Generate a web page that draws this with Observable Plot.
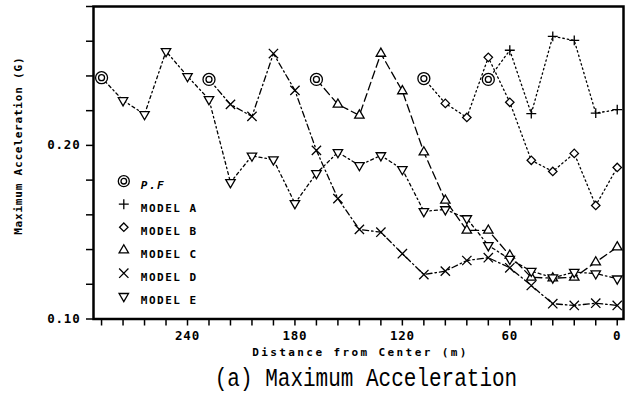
<!DOCTYPE html>
<html><head><meta charset="utf-8">
<script src="https://cdn.jsdelivr.net/npm/d3@7"></script>
<script src="https://cdn.jsdelivr.net/npm/@observablehq/plot@0.6"></script>
<style>
html,body{margin:0;padding:0;background:#fff;}
#chart svg{display:block;}
#chart svg text{font-family:"DejaVu Sans Mono",monospace;font-weight:bold;}
g[aria-label="x-axis tick label"] text, g[aria-label="y-axis tick label"] text{letter-spacing:0.8px;}
.lgtext text{letter-spacing:1.5px;}
.xlab text{letter-spacing:2.4px;}
.ylab text{letter-spacing:0.8px;}
#caption{font-family:"Liberation Mono",monospace;font-size:21px;padding-left:100px;width:532px;text-align:center;margin-top:3px;transform:scaleY(1.2);color:#000;}
</style></head>
<body>
<div id="chart"></div>
<div id="caption">(a) Maximum Acceleration</div>
<script>
// ---- data (distance from center in m, maximum acceleration in G) ----
const pfDist = [288, 228, 168, 108, 72];
const pfAcc  = [0.239, 0.238, 0.238, 0.2385, 0.238];

const aDist = [72, 60, 48, 36, 24, 12, 0];
const aAcc  = [0.238, 0.2548, 0.2183, 0.2628, 0.2605, 0.2186, 0.2206];

const bDist = [108, 96, 84, 72, 60, 48, 36, 24, 12, 0];
const bAcc  = [0.2385, 0.2242, 0.2161, 0.2507, 0.2248, 0.1914, 0.1850, 0.1954, 0.1654, 0.1873];

const cDist = [168, 156, 144, 132, 120, 108, 96, 84, 72, 60, 48, 36, 24, 12, 0];
const cAcc  = [0.238, 0.2236, 0.2173, 0.2529, 0.2313, 0.1961, 0.1683, 0.1510, 0.1510, 0.1366, 0.1240, 0.1235, 0.1240, 0.1327, 0.1414];

const dDist = [228, 216, 204, 192, 180, 168, 156, 144, 132, 120, 108, 96, 84, 72, 60, 48, 36, 24, 12, 0];
const dAcc  = [0.238, 0.2236, 0.2167, 0.2529, 0.2317, 0.1971, 0.1693, 0.1516, 0.1500, 0.1376, 0.1256, 0.1276, 0.1337, 0.1353, 0.1295, 0.1193, 0.1088, 0.1078, 0.1091, 0.1078];

const eDist = [288, 276, 264, 252, 240, 228, 216, 204, 192, 180, 168, 156, 144, 132, 120, 108, 96, 84, 72, 60, 48, 36, 24, 12, 0];
const eAcc  = [0.239, 0.2259, 0.2179, 0.2542, 0.2398, 0.2265, 0.1787, 0.1940, 0.1918, 0.1666, 0.1839, 0.1960, 0.1885, 0.1942, 0.1862, 0.1620, 0.1631, 0.1579, 0.1424, 0.1345, 0.1276, 0.1238, 0.1270, 0.1262, 0.1232];

const xTicks  = [0, 12, 24, 36, 48, 60, 72, 84, 96, 108, 120, 132, 144, 156, 168, 180, 192, 204, 216, 228, 240, 252, 264, 276, 288];
const xLabels = [0, 60, 120, 180, 240];
const yTicks  = [0.10, 0.12, 0.14, 0.16, 0.18, 0.20, 0.22, 0.24, 0.26, 0.28];
const yLabels = [0.10, 0.20];

const legendNames = ["P.F", "MODEL A", "MODEL B", "MODEL C", "MODEL D", "MODEL E"];
const xTitle = "Distance from Center (m)";
const yTitle = "Maximum Acceleration (G)";

// ---- build tables ----
const zip = (ds, vs) => ds.map((d, i) => ({d, v: vs[i]}));
const pf = zip(pfDist, pfAcc);
const series = [
  {name: "MODEL A", data: zip(aDist, aAcc), symbol: "plus",      r: 3.3, rotate: 0,   fill: "none",  dash: "1.5,3"},
  {name: "MODEL B", data: zip(bDist, bAcc), symbol: "diamond2",  r: 3.8, rotate: 0,   fill: "white", dash: "1.5,3"},
  {name: "MODEL C", data: zip(cDist, cAcc), symbol: "triangle2", r: 4.5, rotate: 0,   fill: "white", dash: "8,4"},
  {name: "MODEL D", data: zip(dDist, dAcc), symbol: "times",     r: 4.3, rotate: 0,   fill: "none",  dash: "6,3,1.5,3"},
  {name: "MODEL E", data: zip(eDist, eAcc), symbol: "triangle2", r: 4.5, rotate: 180, fill: "white", dash: "3,3,1.5,3"}
];

const marks = [];
// lines
for (const s of series) {
  marks.push(Plot.line(s.data, {x: "d", y: "v", stroke: "black", strokeWidth: 1.3, strokeDasharray: s.dash}));
}
// markers (first point of every model is the P.F point)
for (const s of series) {
  marks.push(Plot.dot(s.data.slice(1), {x: "d", y: "v", symbol: s.symbol, r: s.r, rotate: s.rotate, stroke: "black", strokeWidth: 1.3, fill: s.fill}));
}
marks.push(Plot.dot(pf, {x: "d", y: "v", r: 6, stroke: "black", strokeWidth: 1.3, fill: "white"}));
marks.push(Plot.dot(pf, {x: "d", y: "v", r: 3, stroke: "black", strokeWidth: 1.3, fill: "none"}));

// axes
marks.push(Plot.axisY(yTicks, {tickSize: 7, tickPadding: 6, strokeWidth: 1.5, fontSize: 12.5,
  tickFormat: t => yLabels.includes(t) ? t.toFixed(2) : "", label: null}));
marks.push(Plot.axisX(xTicks, {tickSize: 7, tickPadding: 5, strokeWidth: 1.5, fontSize: 12.5,
  tickFormat: t => xLabels.includes(t) ? String(t) : "", label: null}));
marks.push(Plot.frame({stroke: "black", strokeWidth: 2.5}));

// axis titles
marks.push(Plot.text([xTitle], {text: d => d, frameAnchor: "bottom", dx: 2, dy: 36.5, fontSize: 11, className: "xlab"}));
marks.push(Plot.text([yTitle], {text: d => d, frameAnchor: "left", textAnchor: "middle", lineAnchor: "middle", dx: -75, dy: -17, rotate: -90, fontSize: 11, className: "ylab"}));

// legend (inside frame, lower left)
const lgDX = 30.3, lgDY = 174.7, lgStep = 23;
legendNames.forEach((name, i) => {
  const dy = lgDY + i * lgStep;
  if (i === 0) {
    marks.push(Plot.dot([name], {frameAnchor: "top-left", dx: lgDX, dy, r: 5.5, stroke: "black", strokeWidth: 1.3, fill: "white"}));
    marks.push(Plot.dot([name], {frameAnchor: "top-left", dx: lgDX, dy, r: 2.8, stroke: "black", strokeWidth: 1.3, fill: "none"}));
  } else {
    const s = series[i - 1];
    marks.push(Plot.dot([name], {frameAnchor: "top-left", dx: lgDX, dy, symbol: s.symbol, r: s.r, rotate: s.rotate, stroke: "black", strokeWidth: 1.3, fill: s.fill}));
  }
  marks.push(Plot.text([name], {text: d => d, frameAnchor: "top-left", dx: lgDX + 17, dy, textAnchor: "start",
    fontSize: 11, fontStyle: i === 0 ? "italic" : "normal", className: "lgtext"}));
});

const chart = Plot.plot({
  width: 632, height: 365,
  marginLeft: 93, marginRight: 9, marginTop: 6, marginBottom: 46.5,
  x: {domain: [292.5, -3.5]},
  y: {domain: [0.10, 0.28]},
  style: {background: "white", color: "black", overflow: "visible"},
  marks
});
document.getElementById("chart").appendChild(chart);
</script>
</body></html>
